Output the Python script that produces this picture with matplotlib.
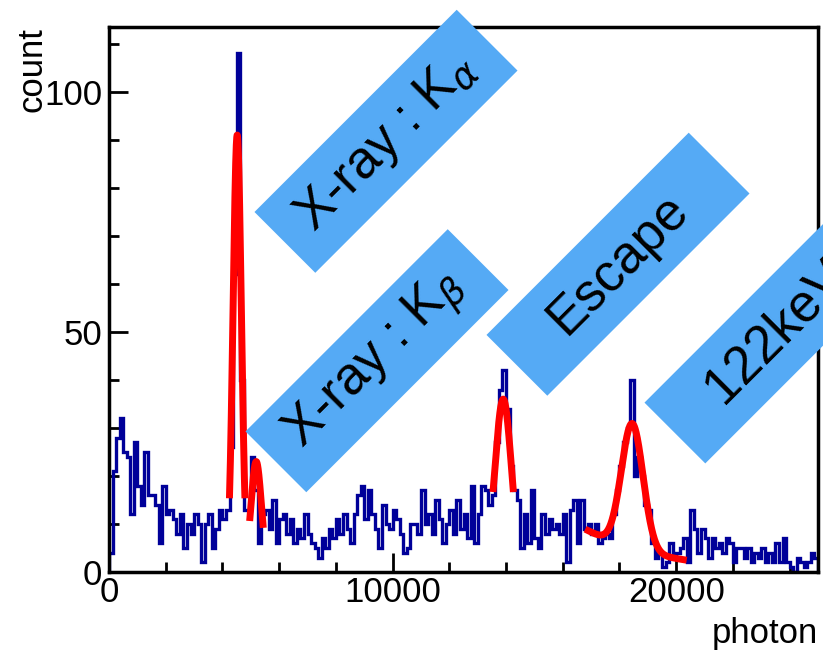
import numpy as np
import matplotlib
matplotlib.use('Agg')
import matplotlib.pyplot as plt
from matplotlib.patches import Rectangle
from matplotlib.ticker import MultipleLocator
from matplotlib.transforms import Affine2D, ScaledTranslation

plt.rcParams['font.family'] = ['Liberation Sans', 'DejaVu Sans']

# histogram: 200 bins of 125 over 0..25000
X_MIN = 0
X_MAX = 25000
N_BINS = 200
COUNTS = [
    4, 21, 28, 32, 25, 24, 12, 27, 18, 14, 25, 16, 16, 14, 6, 18, 12, 13, 11, 8,
    12, 5, 10, 8, 12, 10, 2, 10, 12, 5, 9, 13, 11, 13,
    26, 62, 108, 40, 13, 13, 24, 17,
    6, 12, 13, 9, 15, 6, 11, 12, 8, 11, 6, 9, 7, 12, 8, 6, 5, 3, 7, 5,
    9, 7, 11, 8, 12, 9, 6, 12, 16, 18, 11, 17, 12, 9, 5, 14, 10,
    9, 13, 11, 8, 4, 5, 10, 10, 8, 17, 10, 12, 8, 15, 11, 6, 10, 13, 8, 15,
    9, 12, 7, 18, 6, 12, 18, 17, 14, 16, 27, 38, 42, 34, 22, 17, 15, 5, 12, 6, 17,
    7, 5, 12, 8, 11, 9, 10, 8, 12, 2, 13, 15, 6, 15, 9, 10, 8, 10, 6, 7,
    8, 7, 12, 17, 22, 27, 30, 40, 20, 24, 20, 14, 13, 6, 3, 4, 1,
    2, 6, 3, 4, 5, 7, 2, 13, 9, 4, 9, 7, 3, 7, 5, 6, 4, 7, 6, 2,
    5, 5, 3, 5, 2, 4, 3, 5, 2, 4, 2, 6, 2, 7, 2, 1, 0, 3, 2, 1,
    2, 4, 3,
]

# gaussian fits: amplitude, mean, sigma, fit range
FIT_AMP = [91, 23, 36]
FIT_MEAN = [4520, 5190, 13900]
FIT_SIGMA = [145, 185, 290]
FIT_LO = [4250, 4970, 13550]
FIT_HI = [4790, 5430, 14250]

# 122 keV: gaussian + exponential background
PEAK_AMP, PEAK_MEAN, PEAK_SIGMA = 26, 18450, 380
BG_AMP, BG_SLOPE, BG_X0 = 8.6, 3.6e-4, 16900
PEAK_LO, PEAK_HI = 16900, 20250

# labels: text, box centre (data coords)
LABELS = [r'X-ray : K$_{\alpha}$', r'X-ray : K$_{\beta}$', 'Escape', '122keV']
LABEL_X = [9767, 9450, 17948, 23519]
LABEL_Y = [89.7, 44.0, 64.1, 50.0]

fig = plt.figure(figsize=(8.23, 6.51), dpi=100)
ax = fig.add_axes([109 / 823, 1 - 572 / 651, 709 / 823, 545 / 651])

edges = np.linspace(X_MIN, X_MAX, N_BINS + 1)
ax.stairs(COUNTS, edges, color='#000099', lw=2.4, baseline=0, zorder=2)

for a, m, s, lo, hi in zip(FIT_AMP, FIT_MEAN, FIT_SIGMA, FIT_LO, FIT_HI):
    xs = np.linspace(lo, hi, 200)
    ax.plot(xs, a * np.exp(-0.5 * ((xs - m) / s) ** 2), color='#ff0000', lw=5,
            zorder=3)

xs = np.linspace(PEAK_LO, PEAK_HI, 400)
ys = (PEAK_AMP * np.exp(-0.5 * ((xs - PEAK_MEAN) / PEAK_SIGMA) ** 2)
      + BG_AMP * np.exp(-BG_SLOPE * (xs - BG_X0)))
ax.plot(xs, ys, color='#ff0000', lw=5, zorder=3)

# rotated blue label boxes
box_w, box_h = 2.86, 0.86
for txt, x, y in zip(LABELS, LABEL_X, LABEL_Y):
    tr = (fig.dpi_scale_trans + Affine2D().rotate_deg(45)
          + ScaledTranslation(x, y, ax.transData))
    rect = Rectangle((-box_w / 2, -box_h / 2), box_w, box_h, transform=tr,
                     facecolor='#55aaf5', edgecolor='none', zorder=5,
                     clip_on=False)
    ax.add_patch(rect)
    ax.text(x, y, txt, rotation=45, rotation_mode='anchor', ha='center',
            va='center', fontsize=38, color='black', zorder=6, clip_on=False)

ax.set_xlim(X_MIN, X_MAX)
ax.set_ylim(0, 113.5)
ax.xaxis.set_major_locator(MultipleLocator(10000))
ax.xaxis.set_minor_locator(MultipleLocator(2000))
ax.yaxis.set_major_locator(MultipleLocator(50))
ax.yaxis.set_minor_locator(MultipleLocator(10))
ax.tick_params(which='both', direction='in', top=False, right=False, width=2,
               labelsize=25)
ax.tick_params(which='major', length=14)
ax.tick_params(which='minor', length=7)
ax.tick_params(axis='x', pad=3)
ax.tick_params(axis='y', pad=5)
for sp in ax.spines.values():
    sp.set_linewidth(2.5)

ax.set_xlabel('photon', fontsize=25, loc='right')
ax.xaxis.set_label_coords(1.0, -0.083)
ax.set_ylabel('count', fontsize=25, loc='top')
ax.yaxis.set_label_coords(-0.085, 1.0)

fig.savefig('out.png', dpi=100)
